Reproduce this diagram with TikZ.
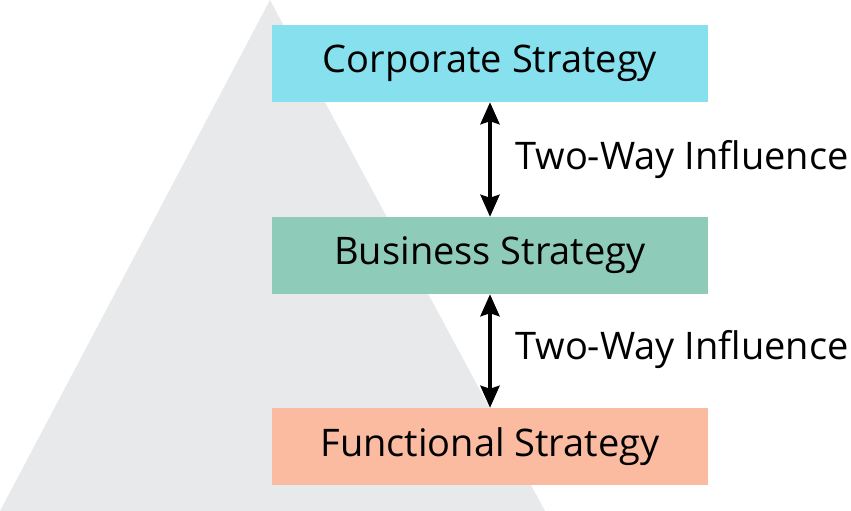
\documentclass[tikz,border=0pt]{standalone}
\usepackage{fontspec}
\setmainfont{Open Sans}
\usetikzlibrary{arrows.meta}
\definecolor{tri}{HTML}{E8E9EB}
\definecolor{corp}{HTML}{87E0EE}
\definecolor{bus}{HTML}{8FCBB9}
\definecolor{fun}{HTML}{FBBBA0}
\begin{document}
\begin{tikzpicture}[x=1pt,y=-1pt,
  box/.style={minimum width=436pt,minimum height=77pt,inner sep=0pt,font=\fontsize{38}{44}\selectfont},
  arr/.style={{Stealth[length=22pt,width=19pt,inset=3pt]}-{Stealth[length=22pt,width=19pt,inset=3pt]},line width=4pt},
  lab/.style={anchor=west,font=\fontsize{38}{44}\selectfont,inner sep=0pt}]
\useasboundingbox (0,0) rectangle (851,511);
\fill[tri] (270,0) -- (545,511) -- (0,511) -- cycle;
\node[box,fill=corp] (c) at (490,63.5) {Corporate Strategy};
\node[box,fill=bus] (b) at (490,255.5) {Business Strategy};
\node[box,fill=fun] (f) at (490,446.5) {Functional Strategy};
\draw[arr] (c.south) -- (b.north);
\draw[arr] (b.south) -- (f.north);
\node[lab] (l1) at (515,160) {Two-Way Influence};
\node[lab] (l2) at (515,350) {Two-Way Influence};
\end{tikzpicture}
\end{document}
